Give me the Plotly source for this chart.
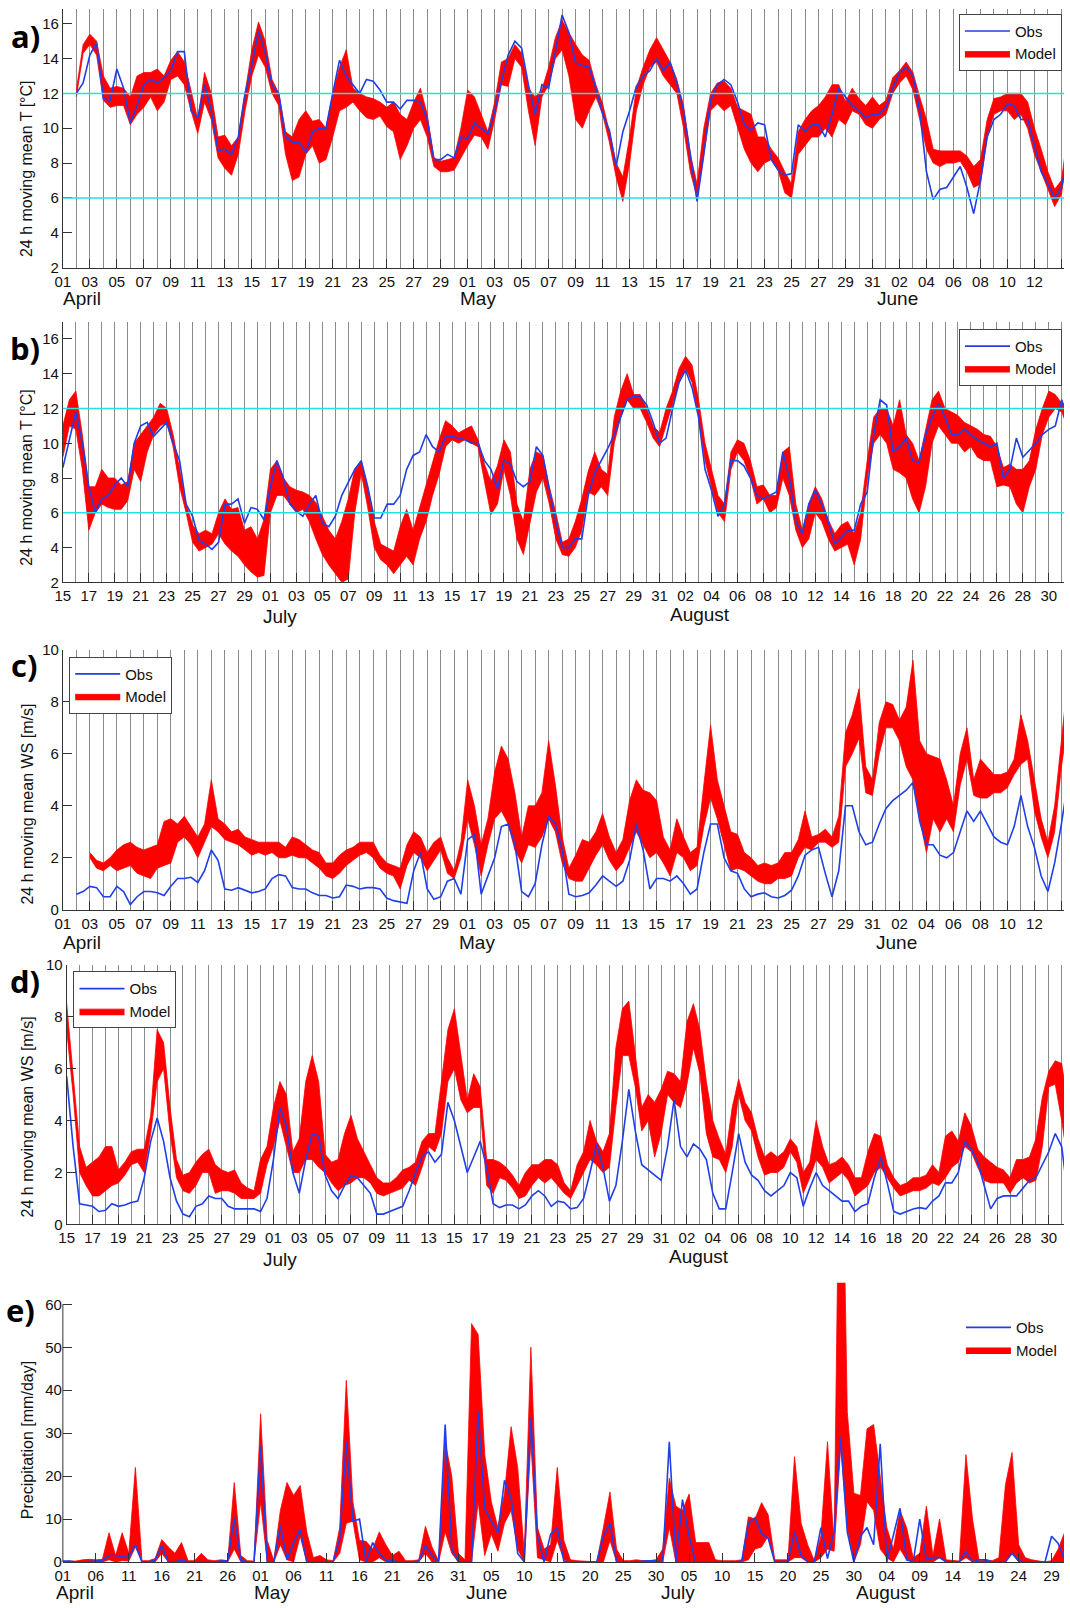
import numpy as np
import pandas as pd
import plotly.graph_objects as go

# ---------------------------------------------------------------- data
A_START = "2013-04-01"   # panels a, c, e start
B_START = "2013-06-15"   # panels b, d start

# Panel a: 24 h moving mean T, 12-hourly from Apr 2 (day 1) to day 74.5
a_obs = [12.0, 12.6, 14.2, 14.9, 11.7, 11.6, 13.4, 12.3, 10.3, 11.3,
         12.5, 12.8, 12.6, 12.9, 13.3, 14.4, 14.4, 11.0, 10.6, 12.5,
         11.0, 8.7, 8.8, 8.5, 9.5, 12.0, 13.6, 15.6, 14.3, 12.5,
         12.0, 9.5, 9.2, 9.2, 8.6, 9.8, 10.0, 10.0, 12.0, 13.9,
         13.0, 12.5, 12.0, 12.8, 12.7, 12.2, 11.5, 11.5, 11.1, 11.6,
         11.6, 11.5, 10.5, 8.2, 8.2, 8.5, 8.3, 9.5, 9.4, 10.3,
         10.0, 9.7, 11.0, 12.7, 14.2, 15.0, 14.6, 12.5, 10.8, 12.5,
         12.3, 14.5, 16.5, 15.5, 13.75, 13.6, 13.5, 12.3, 10.8, 9.9,
         7.8, 9.8, 11.0, 12.4, 13.0, 13.3, 14.0, 13.3, 13.8, 12.6,
         11.0, 8.5, 5.8, 8.5, 11.6, 12.5, 12.8, 12.5, 11.5, 10.2,
         9.9, 10.3, 10.2, 8.2, 7.6, 7.3, 7.4, 10.2, 9.8, 10.2,
         10.2, 9.5, 10.8, 12.3, 11.8, 11.3, 11.0, 10.6, 10.8, 10.8,
         11.2, 12.3, 13.2, 13.5, 13.0, 11.0, 7.5, 5.9, 6.5, 6.6,
         7.2, 7.8, 6.6, 5.1, 7.0, 9.5, 10.5, 10.8, 11.4, 11.3,
         10.5, 10.5, 9.0, 7.5, 6.8, 6.0, 6.6, 8.4]
a_lo = [11.8, 14.3, 14.8, 14.2, 11.6, 11.2, 11.3, 11.3, 10.2, 10.8,
        11.2, 11.8, 11.0, 11.5, 12.8, 13.0, 12.5, 11.0, 9.7, 11.5,
        10.5, 8.3, 7.7, 7.3, 8.5, 11.0, 13.0, 14.2, 13.5, 12.0,
        11.3, 8.5, 7.0, 7.2, 8.5, 9.0, 8.0, 8.2, 9.5, 11.0,
        11.2, 11.5, 11.0, 10.6, 10.5, 10.7, 10.1, 9.8, 8.2, 9.0,
        10.0, 10.5, 9.5, 7.8, 7.5, 7.5, 7.6, 8.3, 9.0, 9.6,
        9.5, 8.8, 10.5, 12.5, 12.4, 14.0, 13.5, 11.0, 9.0, 11.8,
        12.5, 14.0, 14.5, 13.0, 10.5, 10.0, 11.0, 11.8, 10.8, 9.2,
        7.2, 5.8, 8.0, 11.0, 12.5, 13.5, 13.8, 13.0, 12.5, 12.0,
        10.0, 7.5, 6.0, 8.5, 11.0, 11.4, 11.0, 11.3, 10.0, 8.8,
        8.0, 7.5, 8.0, 8.2, 7.6, 6.3, 6.0, 8.5, 9.0, 9.5,
        9.5, 10.0, 9.5, 10.5, 10.2, 11.0, 10.8, 10.2, 10.0, 10.5,
        10.8, 12.0, 12.6, 13.0, 12.2, 10.5, 8.8, 8.0, 7.8, 8.0,
        8.0, 8.1, 7.5, 6.6, 6.8, 9.5, 10.8, 11.0, 11.0, 10.5,
        10.8, 10.0, 8.5, 7.5, 6.5, 5.5, 6.2, 8.8]
a_hi = [12.2, 14.8, 15.4, 15.0, 13.0, 12.3, 12.4, 12.3, 11.8, 13.0,
        13.2, 13.2, 13.4, 13.0, 13.9, 14.4, 13.8, 12.2, 10.5, 13.2,
        12.0, 9.5, 9.6, 9.0, 9.5, 12.0, 14.5, 16.1, 15.0, 12.8,
        12.0, 9.8, 9.5, 10.5, 11.0, 10.4, 10.5, 10.0, 12.0, 13.5,
        14.5, 12.3, 12.0, 11.8, 11.7, 11.5, 11.2, 11.5, 10.8, 10.5,
        11.5, 12.3, 10.8, 8.3, 8.1, 8.2, 8.3, 10.0, 12.2, 11.8,
        10.8, 9.8, 11.5, 13.8, 14.0, 14.8, 14.3, 12.3, 11.8, 12.2,
        13.5, 15.2, 16.2, 15.5, 14.8, 14.2, 13.9, 12.5, 11.4, 9.8,
        8.0, 7.2, 9.5, 12.3, 13.5, 14.5, 15.2, 14.5, 13.8, 12.8,
        11.3, 8.5, 6.8, 10.0, 12.0, 12.6, 12.7, 12.3, 11.2, 11.0,
        10.8, 9.5, 9.5, 8.8, 8.3, 7.5, 6.8, 9.8, 10.5, 11.0,
        11.3, 11.8, 12.5, 12.5, 11.5, 12.3, 11.7, 11.3, 11.8, 11.3,
        11.6, 12.9, 13.3, 13.8, 13.2, 11.8, 10.5, 8.8, 8.7, 8.7,
        8.7, 8.7, 8.4, 7.8, 8.2, 10.5, 11.7, 11.8, 12.0, 12.0,
        12.0, 11.5, 10.0, 8.8, 7.5, 6.5, 7.0, 9.8]

# Panel b: 24 h moving mean T, 12-hourly from Jun 15 (day 0) to day 77.5
b_obs = [8.6, 10.3, 11.8, 10.0, 7.5, 6.0, 6.8, 7.0, 7.6, 8.0,
         7.5, 10.0, 11.0, 11.2, 10.4, 10.8, 11.2, 10.0, 9.0, 6.5,
         5.8, 4.4, 4.2, 3.9, 4.3, 6.5, 6.5, 6.8, 5.4, 6.3,
         6.2, 5.6, 7.5, 9.0, 8.0, 6.5, 6.1, 5.8, 6.5, 7.0,
         5.4, 5.2, 5.8, 7.0, 7.8, 8.5, 9.0, 7.5, 5.7, 5.7,
         6.5, 6.5, 7.0, 8.5, 9.3, 9.5, 10.5, 9.8, 9.5, 10.4,
         10.4, 10.3, 10.2, 10.0, 10.0, 9.0, 8.5, 7.4, 9.0, 8.8,
         7.8, 7.5, 7.8, 9.8, 9.3, 7.3, 5.5, 4.0, 4.0, 4.5,
         4.5, 7.0, 8.3, 9.0, 9.7, 10.5, 11.5, 12.5, 12.7, 12.7,
         12.2, 11.2, 10.0, 10.3, 12.0, 13.5, 14.2, 13.2, 11.5, 8.5,
         7.3, 5.8, 6.5, 9.0, 9.0, 8.7, 8.0, 7.0, 6.8, 7.0,
         7.2, 9.5, 8.0, 5.5, 4.8, 6.5, 7.3, 6.5, 5.5, 4.2,
         4.6, 5.0, 5.0, 6.5, 7.2, 10.5, 12.5, 12.2, 9.5, 9.8,
         10.3, 9.0, 8.9, 10.5, 11.5, 12.3, 11.5, 10.5, 10.5, 10.8,
         10.5, 10.2, 10.0, 9.8, 10.0, 8.0, 8.5, 10.3, 9.2, 9.6,
         10.0, 10.5, 10.8, 11.0, 12.5, 11.2]
b_lo = [9.2, 11.0, 10.8, 8.5, 5.0, 6.0, 6.5, 6.3, 6.2, 6.2,
        6.7, 8.5, 7.8, 9.5, 10.5, 11.0, 11.2, 9.8, 7.5, 6.0,
        4.3, 3.8, 4.0, 4.2, 4.8, 4.2, 3.8, 3.5, 3.0, 2.6,
        2.3, 2.4, 6.0, 7.0, 7.0, 6.5, 6.0, 6.2, 5.5, 4.5,
        3.6, 3.0, 2.5, 2.0, 2.2, 6.0, 8.3, 6.3, 4.0, 3.3,
        3.0, 2.5, 3.0, 3.5, 3.0, 4.5, 5.5, 7.0, 8.2, 9.8,
        10.2, 10.0, 10.2, 10.0, 9.8, 7.8, 5.9, 6.5, 8.5, 7.0,
        4.5, 3.6, 5.5, 7.2, 8.0, 6.5, 4.5, 3.6, 3.5, 4.0,
        5.0, 7.2, 7.0, 7.5, 7.0, 10.0, 11.5, 12.5, 12.0, 12.0,
        11.2, 10.3, 9.8, 11.0, 12.3, 13.5, 14.3, 13.5, 11.5, 9.0,
        7.5, 6.0, 5.5, 8.5, 9.5, 9.0, 8.0, 6.5, 6.8, 6.0,
        6.3, 8.0, 7.0, 5.0, 4.0, 4.5, 6.0, 5.5, 4.5, 3.8,
        4.0, 4.2, 3.0, 4.5, 8.0, 10.0, 10.5, 10.0, 8.5, 8.3,
        8.0, 6.8, 6.0, 7.5, 10.0, 11.0, 10.5, 10.0, 10.0, 9.5,
        9.8, 9.2, 9.0, 9.0, 7.5, 7.6, 7.5, 6.5, 6.0, 7.5,
        8.5, 10.5, 11.5, 12.0, 11.8, 10.8]
b_hi = [11.0, 12.5, 13.0, 10.5, 7.5, 7.5, 8.5, 8.0, 8.0, 7.6,
        7.8, 10.0, 10.5, 11.0, 11.5, 12.3, 12.0, 10.5, 8.5, 6.5,
        5.3, 4.8, 5.0, 4.8, 6.0, 6.8, 6.2, 6.3, 5.0, 5.2,
        4.5, 5.6, 8.5, 9.0, 8.0, 7.5, 7.3, 7.2, 7.0, 6.6,
        5.8, 5.0, 4.5, 5.5, 6.8, 8.5, 9.0, 7.5, 5.5, 4.2,
        4.0, 3.8, 5.2, 6.2, 5.0, 6.3, 7.5, 8.8, 10.2, 11.3,
        11.0, 10.6, 10.8, 11.0, 10.2, 8.8, 7.8, 8.7, 10.2, 9.5,
        6.5, 5.5, 8.5, 9.5, 9.3, 7.5, 6.0, 4.3, 4.5, 5.5,
        6.8, 8.4, 9.5, 8.5, 8.2, 11.5, 13.0, 14.0, 12.8, 12.8,
        12.0, 11.0, 10.6, 12.0, 13.0, 14.3, 15.0, 14.5, 12.5, 10.0,
        8.5, 7.0, 6.5, 9.5, 10.2, 10.0, 9.0, 7.5, 7.6, 7.0,
        7.0, 9.5, 9.8, 6.5, 5.0, 6.5, 7.5, 6.8, 5.6, 4.8,
        5.3, 5.5, 4.8, 6.0, 9.0, 11.5, 12.0, 12.0, 11.0, 12.5,
        10.5, 10.0, 9.0, 10.8, 12.5, 13.0, 12.0, 11.8, 11.6, 11.2,
        11.0, 10.8, 10.5, 10.4, 9.8, 8.6, 8.8, 8.5, 8.5, 9.0,
        10.8, 12.0, 13.0, 12.8, 12.3, 12.2]

# Panel c: 24 h moving mean WS; obs 12-hourly from day 1, model from day 2
c_obs = [0.6, 0.7, 0.9, 0.85, 0.5, 0.5, 0.9, 0.7, 0.2, 0.5,
         0.7, 0.7, 0.65, 0.55, 0.9, 1.2, 1.2, 1.25, 1.05, 1.5,
         2.3, 1.9, 0.8, 0.75, 0.85, 0.75, 0.65, 0.7, 0.8, 1.2,
         1.35, 1.3, 0.85, 0.8, 0.8, 0.65, 0.55, 0.55, 0.45, 0.5,
         0.95, 0.9, 0.8, 0.85, 0.85, 0.8, 0.45, 0.35, 0.3, 0.25,
         1.5, 2.2, 0.8, 0.4, 0.5, 1.1, 1.2, 0.6, 2.7, 2.9,
         0.6, 1.3, 2.0, 3.2, 3.3, 2.5, 0.7, 0.5, 1.0, 2.5,
         3.6, 3.3, 2.3, 0.6, 0.5, 0.55, 0.65, 0.95, 1.3, 1.1,
         0.9, 1.1, 1.9, 3.3, 2.3, 0.8, 1.2, 1.2, 1.1, 1.3,
         1.0, 0.6, 0.8, 2.2, 3.3, 3.3, 2.0, 1.5, 1.4, 0.8,
         0.5, 0.6, 0.65, 0.5, 0.45, 0.55, 0.75, 1.3, 2.1, 2.3,
         2.4, 1.4, 0.5, 1.5, 4.0, 4.0, 3.0, 2.5, 2.6, 3.3,
         3.9, 4.2, 4.4, 4.6, 4.9, 3.4, 2.5, 2.5, 2.1, 2.0,
         2.2, 3.0, 3.8, 3.4, 3.8, 3.3, 2.8, 2.6, 2.5, 3.2,
         4.4, 3.2, 2.4, 1.3, 0.7, 1.8, 3.3, 5.0]
c_lo = [2.0, 1.6, 1.5, 1.7, 1.5, 1.6, 1.7, 1.4, 1.3, 1.2,
        1.6, 1.7, 1.8, 2.6, 2.8, 2.5, 2.0, 2.6, 3.2, 3.0,
        2.7, 2.6, 2.5, 2.3, 2.1, 2.2, 2.1, 2.2, 2.0, 2.0,
        2.1, 2.0, 2.0, 1.8, 1.6, 1.3, 1.2, 1.4, 1.7, 1.9,
        2.1, 2.2, 2.0, 1.6, 1.4, 1.3, 0.8, 1.7, 2.2, 2.0,
        1.5, 1.9, 2.3, 1.4, 1.2, 2.0, 3.5, 2.5, 1.3, 2.5,
        3.5, 3.8, 3.3, 2.3, 1.8, 2.5, 2.4, 2.8, 3.5, 3.0,
        1.8, 1.2, 1.1, 1.1, 1.6, 2.1, 2.5, 1.9, 1.5, 1.8,
        2.4, 3.0, 2.5, 2.0, 2.2, 1.8, 1.3, 2.2, 2.0, 1.5,
        1.7, 3.2, 4.3, 3.5, 2.5, 1.5, 1.6, 1.5, 1.3, 1.1,
        1.0, 1.0, 1.2, 1.2, 1.3, 2.0, 2.4, 2.3, 2.6, 2.6,
        2.4, 2.6, 5.5, 6.0, 6.6, 4.5, 4.4, 6.0, 7.0, 7.0,
        6.5, 5.5, 5.0, 3.5, 2.2, 3.5, 3.0, 3.5, 3.0, 4.8,
        5.8, 4.4, 4.3, 4.3, 4.5, 4.5, 4.7, 5.2, 5.6, 5.8,
        3.8, 2.8, 2.0, 3.0, 5.5, 7.3]
c_hi = [2.2, 1.9, 1.8, 2.0, 2.3, 2.5, 2.6, 2.4, 2.3, 2.4,
        2.5, 3.4, 3.5, 3.3, 3.6, 3.2, 2.8, 3.3, 5.0, 3.5,
        3.3, 3.0, 3.1, 2.8, 2.7, 2.6, 2.6, 2.6, 2.6, 2.4,
        2.8, 2.7, 2.5, 2.3, 2.2, 1.8, 1.8, 2.1, 2.3, 2.4,
        2.6, 2.6, 2.6, 2.1, 1.8, 1.7, 1.6, 2.5, 3.0, 2.8,
        2.2, 2.6, 2.8, 2.0, 1.5, 2.6, 5.0, 4.0, 2.5, 3.5,
        5.3, 6.3, 5.8, 4.5, 2.8, 4.0, 4.0, 4.5, 6.5, 4.8,
        2.8, 1.6, 2.1, 2.7, 2.6, 3.0, 3.7, 2.8, 2.2, 2.7,
        4.2, 5.0, 4.6, 4.5, 4.2, 2.8, 2.3, 3.5, 2.8, 2.2,
        2.4, 4.8, 7.1, 5.0, 4.0, 3.0, 2.9, 2.2, 2.0, 1.7,
        1.8, 1.7, 1.8, 2.2, 2.2, 2.7, 3.8, 2.8, 2.9, 3.1,
        2.8, 3.6, 6.8, 7.5, 8.5, 5.5, 5.0, 7.2, 8.0, 7.9,
        7.3, 7.8, 9.6, 6.5, 6.0, 5.9, 5.8, 5.0, 4.0, 6.0,
        7.0, 5.0, 5.8, 5.5, 5.2, 5.2, 5.3, 5.8, 7.5, 6.5,
        5.0, 3.5, 2.6, 4.0, 6.5, 9.0]

# Panel d: 24 h moving mean WS, 12-hourly from Jun 15 (day 0) to day 77.5
d_obs = [5.7, 3.0, 0.8, 0.75, 0.7, 0.5, 0.55, 0.8, 0.7, 0.75,
         0.85, 0.9, 1.8, 3.2, 4.1, 3.2, 1.8, 0.9, 0.4, 0.3,
         0.7, 0.8, 1.1, 1.0, 1.0, 0.7, 0.6, 0.6, 0.6, 0.6,
         0.5, 1.0, 2.5, 4.5, 3.8, 2.0, 1.2, 2.5, 3.5, 3.4,
         1.9, 1.3, 1.0, 1.5, 1.9, 1.8, 1.5, 1.2, 0.4, 0.4,
         0.5, 0.6, 0.7, 1.3, 2.0, 2.6, 2.8, 2.4, 2.7, 4.7,
         4.0, 3.0, 2.0, 2.6, 3.2, 2.2, 0.8, 0.65, 0.75, 0.75,
         0.6, 0.75, 1.1, 1.3, 1.1, 0.7, 0.9, 0.85, 0.6, 0.65,
         1.0, 2.0, 3.1, 2.2, 0.9, 1.5, 3.2, 5.2, 3.6, 2.3,
         2.1, 1.9, 1.7, 3.0, 4.8, 3.0, 2.6, 3.1, 2.9, 2.5,
         1.2, 0.6, 0.6, 2.0, 3.5, 2.4, 1.9, 1.7, 1.3, 1.1,
         1.3, 1.5, 2.0, 1.8, 0.7, 1.4, 2.0, 1.5, 1.3, 1.1,
         0.9, 0.9, 0.5, 0.7, 0.8, 1.8, 2.6, 1.6, 0.5, 0.4,
         0.5, 0.6, 0.65, 0.6, 0.9, 1.1, 1.6, 1.6, 2.0, 3.2,
         2.9, 2.4, 1.5, 0.6, 1.0, 1.1, 1.1, 1.1, 1.4, 1.7,
         1.8, 2.3, 2.8, 3.5, 3.0, 1.0]
d_lo = [7.5, 5.0, 2.0, 1.5, 1.1, 1.1, 1.3, 1.5, 1.6, 1.9,
        2.3, 2.4, 2.0, 3.5, 5.5, 6.0, 3.5, 1.8, 1.3, 1.2,
        1.5, 2.0, 2.0, 1.2, 1.3, 1.3, 1.2, 1.0, 1.0, 1.0,
        1.2, 2.3, 3.0, 4.0, 3.0, 2.0, 2.0, 2.5, 2.5, 2.2,
        2.0, 1.6, 1.3, 1.5, 1.6, 1.8, 1.8, 1.6, 1.2, 1.1,
        1.2, 1.3, 1.4, 1.7, 1.5, 2.2, 3.0, 2.8, 3.5, 5.5,
        6.0, 4.8, 4.3, 4.5, 4.5, 1.5, 1.2, 1.8, 1.7, 1.4,
        1.0, 1.1, 1.5, 1.8, 1.6, 1.8, 1.5, 1.2, 1.0, 1.5,
        2.0, 2.5, 2.3, 2.0, 2.2, 4.5, 6.5, 6.5, 5.3, 3.6,
        4.0, 2.6, 3.5, 5.0, 4.7, 4.5, 5.4, 6.8, 5.8, 3.5,
        2.6, 2.5, 2.0, 3.0, 5.0, 4.0, 3.6, 2.6, 1.9, 2.0,
        2.0, 2.2, 2.8, 2.4, 1.2, 1.8, 2.5, 2.2, 1.6, 1.8,
        2.0, 1.7, 1.1, 1.3, 1.5, 2.0, 2.2, 1.8, 1.4, 1.1,
        1.2, 1.3, 1.3, 1.4, 1.6, 1.5, 1.8, 2.2, 2.4, 3.0,
        2.8, 2.2, 1.7, 1.6, 1.6, 1.6, 1.2, 1.6, 1.8, 1.6,
        1.7, 3.0, 5.3, 5.4, 4.0, 2.3]
d_hi = [8.5, 5.8, 3.0, 2.2, 2.4, 2.6, 3.0, 3.0, 2.1, 2.4,
        2.8, 2.9, 2.9, 4.2, 7.5, 7.0, 4.5, 2.5, 1.9, 2.0,
        2.4, 2.7, 2.9, 2.3, 2.1, 2.0, 2.1, 1.6, 1.4, 1.3,
        2.5, 3.0, 4.5, 5.5, 5.0, 2.8, 3.3, 5.5, 6.5, 5.5,
        2.7, 2.4, 2.5, 3.5, 4.2, 3.3, 2.8, 2.3, 1.8, 1.6,
        1.6, 1.8, 2.1, 2.2, 2.4, 3.2, 3.5, 3.5, 5.5, 7.5,
        8.3, 6.5, 4.8, 5.8, 5.3, 2.5, 2.5, 2.4, 2.2, 1.9,
        1.5, 2.0, 2.3, 2.3, 2.5, 2.5, 2.3, 1.6, 1.3, 2.3,
        2.8, 4.0, 3.2, 2.8, 3.5, 6.8, 8.3, 8.6, 6.6, 4.5,
        5.0, 4.7, 5.2, 5.9, 5.8, 5.5, 7.8, 8.5, 7.5, 5.5,
        4.0, 3.3, 2.7, 4.5, 5.6, 4.7, 4.3, 3.3, 2.6, 2.8,
        2.6, 2.8, 3.3, 3.0, 2.0, 2.4, 4.0, 3.0, 2.3, 2.4,
        2.6, 2.3, 1.8, 1.8, 2.8, 3.5, 3.4, 2.3, 1.8, 1.5,
        1.6, 1.8, 1.8, 1.9, 2.3, 2.0, 3.4, 3.6, 3.2, 4.3,
        3.8, 2.9, 2.6, 2.4, 2.2, 2.1, 1.8, 2.5, 2.5, 2.6,
        3.3, 4.9, 5.9, 6.3, 6.2, 4.5]

# Panel e: daily precipitation, Apr 1 (day 0) to day 153
e_obs = [0.2, 0.2, 0, 0, 0.1, 0.2, 0.3, 1.5, 1.5, 1.3,
         1.0, 4.0, 0, 0, 0.5, 3.8, 0, 0, 0.5, 0,
         0, 0, 0, 0, 0.2, 0.3, 10.2, 0.5, 0, 0,
         27, 0, 0, 8.5, 0.5, 4.5, 7.6, 0, 0, 0,
         0, 0, 5.5, 28, 9.5, 10, 0, 4.5, 2.0, 0.4,
         0.3, 0, 0, 0, 0.2, 3.8, 1.5, 0, 32, 3,
         0, 0, 0, 35, 12.5, 9.5, 6.8, 19, 15, 2,
         0, 33.5, 6, 0, 6.5, 8, 0.2, 0, 0, 0,
         0, 0, 6, 9, 0, 0, 0, 0, 0.2, 0.3,
         0.3, 0, 28, 0, 14.5, 6, 0, 0, 0, 0,
         0, 0, 0, 0.2, 9, 10.3, 6.6, 5.5, 0, 0.1,
         0.1, 7, 1.5, 0, 0, 8, 0.8, 7, 29, 7,
         0, 6, 8, 4, 27.5, 0, 6.5, 12.5, 0.5, 0,
         10, 0.5, 1, 1, 0, 0, 0, 2.5, 0, 0.5,
         0.5, 0, 0, 0, 2, 0.3, 0, 0, 0, 0,
         6, 4.3, 0.5, 0.2]
e_lo = [0, 0, 0, 0, 0, 0, 0, 0.5, 0, 0.3,
        0.2, 3.5, 0, 0, 0, 2.0, 0, 0, 0, 0,
        0, 0, 0, 0, 0, 0, 3.0, 0, 0, 0,
        14, 0, 0, 4, 0.5, 0, 6, 0, 0, 0,
        0, 0, 2, 9, 9.5, 0.5, 0, 0, 1, 0,
        0, 0, 0, 0, 0, 2, 0, 0, 7, 2,
        0, 0, 0, 14, 1.5, 6.5, 2.5, 9, 12, 3,
        0, 28, 1, 0.5, 0, 5, 0.5, 0, 0, 0,
        0, 0, 0, 5, 0, 0, 0, 0, 0, 0,
        0, 0, 8, 0, 0, 0, 0, 0, 0, 0,
        0, 0, 0, 0, 0.5, 3, 3.5, 6, 0, 0,
        0, 1, 1, 0, 0, 1, 3, 2.5, 27, 8,
        0, 4, 14, 12, 3, 1, 0, 3, 0.5, 0,
        0, 0, 0, 1, 0, 0, 0, 1, 0, 0,
        0, 0, 0, 0, 2, 0, 0, 0, 0, 0,
        0, 0, 0, 0]
e_hi = [0, 0.2, 0.2, 0.5, 0.6, 0.5, 0.6, 6.8, 1.5, 6.8,
        2.0, 22, 0.3, 0.3, 0.8, 5.2, 3.5, 2.0, 4.5, 0.3,
        0.3, 2.0, 0.5, 0.3, 0.5, 0.3, 18.5, 1.5, 0.3, 0.2,
        34.5, 5, 0.3, 12, 18.5, 15.5, 17.8, 7, 1.0, 1.5,
        0.5, 0.3, 8, 42.3, 14, 5, 4.8, 3, 7, 4,
        1.5, 2.5, 0.3, 0.3, 0.5, 8.3, 3.5, 0.3, 28, 20,
        2, 0.5, 55.5, 53, 25, 14, 8, 16, 31.5, 22,
        2, 50, 8, 3, 4, 22, 5, 0.5, 0.3, 0.2,
        0, 0, 8, 16.3, 3, 0.3, 0.3, 0.5, 0.3, 0.3,
        0.5, 3, 19.5, 13, 12, 15.8, 4.5, 4.5, 4.5, 0.5,
        0.3, 0.3, 0.3, 0.5, 10.5, 10, 13.8, 11, 0.5, 0.5,
        0.5, 24.5, 9, 4, 0.3, 6, 28, 4, 125, 35,
        16, 15.5, 31, 32, 20, 8, 3, 12, 8, 1,
        2, 13, 1.5, 10, 0.5, 0.3, 0.2, 25, 10, 0.3,
        0.5, 0.3, 1, 18, 25.5, 4, 1, 0.5, 0.3, 0,
        0.3, 3, 7, 1]

for name, arr, n in [("a_obs", a_obs, 148), ("a_lo", a_lo, 148), ("a_hi", a_hi, 148),
                     ("b_obs", b_obs, 156), ("b_lo", b_lo, 156), ("b_hi", b_hi, 156),
                     ("c_obs", c_obs, 148), ("c_lo", c_lo, 146), ("c_hi", c_hi, 146),
                     ("d_obs", d_obs, 156), ("d_lo", d_lo, 156), ("d_hi", d_hi, 156),
                     ("e_obs", e_obs, 154), ("e_lo", e_lo, 154), ("e_hi", e_hi, 154)]:
    assert len(arr) == n, (name, len(arr))

# ---------------------------------------------------------------- page geometry
# The page keeps the browser's default 8 px body margin, and the captured page
# is 1080 x 1624 which is then shown at 1070 x 1608.  All positions below are
# given in final-picture pixels and converted to figure paper coordinates.
DAY_MS = 86400000
M = 8
W, H = 1064, 1608
SX, SY = 1070 / (W + 2 * M), 1608 / (H + 2 * M)
RIGHT = SX * (M + W)          # right edge of the figure in picture pixels

RED = "#ff0000"
BLUE = "#1f3fe8"
GRID = "#8a8a8a"
AXC = "#333333"
CYAN = "#22e4e4"
FONT = "Liberation Sans, Arial, sans-serif"


def times(start, first_day, n, step):
    return pd.Timestamp(start) + pd.to_timedelta(first_day + step * np.arange(n), unit="D")


def at(start, days):
    return pd.Timestamp(start) + pd.Timedelta(days=days)


def py(Y):            # picture pixel row -> paper y
    return 1 - (Y / SY - M) / H


def px_(X):           # picture pixel column -> paper x
    return (X / SX - M) / W


fig = go.Figure()


def add_panel(k, t_band, lo, hi, t_obs, obs, legend):
    xa = "x" if k == 1 else f"x{k}"
    ya = "y" if k == 1 else f"y{k}"
    fig.add_trace(go.Scatter(x=t_band, y=lo, mode="lines", line=dict(color=RED, width=0.8),
                             showlegend=False, hoverinfo="skip", xaxis=xa, yaxis=ya))
    fig.add_trace(go.Scatter(x=t_band, y=hi, mode="lines", fill="tonexty", fillcolor=RED,
                             line=dict(color=RED, width=0.8), name="Model", legend=legend,
                             legendrank=2, xaxis=xa, yaxis=ya))
    fig.add_trace(go.Scatter(x=t_obs, y=obs, mode="lines", line=dict(color=BLUE, width=1.6),
                             name="Obs", legend=legend, legendrank=1, xaxis=xa, yaxis=ya))


add_panel(1, times(A_START, 1, 148, 0.5), a_lo, a_hi, times(A_START, 1, 148, 0.5), a_obs, "legend")
add_panel(2, times(B_START, 0, 156, 0.5), b_lo, b_hi, times(B_START, 0, 156, 0.5), b_obs, "legend2")
add_panel(3, times(A_START, 2, 146, 0.5), c_lo, c_hi, times(A_START, 1, 148, 0.5), c_obs, "legend3")
add_panel(4, times(B_START, 0, 156, 0.5), d_lo, d_hi, times(B_START, 0, 156, 0.5), d_obs, "legend4")
add_panel(5, times(A_START, 0, 154, 1.0), e_lo, e_hi, times(A_START, 0, 154, 1.0), e_obs, "legend5")

# ---------------------------------------------------------------- axes
# (left px, top px, bottom px, start, px per day, yrange, ytick values) -- picture pixels
panels = {
    1: (62.7, 8.0, 266.7, A_START, 13.47, [2, 16.84], list(range(2, 17, 2))),
    2: (62.7, 320.7, 581.7, B_START, 12.95, [2, 17], list(range(2, 17, 2))),
    3: (62.7, 649.3, 909.3, A_START, 13.47, [0, 10], list(range(0, 11, 2))),
    4: (66.5, 964.3, 1224.3, B_START, 12.90, [0, 10], list(range(0, 11, 2))),
    5: (62.7, 1282.7, 1562.0, A_START, 6.58, [0, 65], list(range(0, 61, 10))),
}

for k, (left, top, bot, start, ppd, yr, yt) in panels.items():
    xname = "xaxis" if k == 1 else f"xaxis{k}"
    yname = "yaxis" if k == 1 else f"yaxis{k}"
    ya = "y" if k == 1 else f"y{k}"
    xa = "x" if k == 1 else f"x{k}"
    span = (RIGHT - left) / ppd
    xd = dict(type="date", domain=[px_(left), 1.0], anchor=ya,
              range=[pd.Timestamp(start), at(start, span)],
              tick0=start, dtick=(5 if k == 5 else 2) * DAY_MS, tickformat="%d",
              ticks="inside", ticklen=9, tickwidth=1, tickcolor=AXC,
              showline=True, linecolor=AXC, linewidth=1, zeroline=False,
              tickfont=dict(size=15, color="#111", family=FONT), fixedrange=True)
    if k == 5:
        xd.update(showgrid=False)
    else:
        xd.update(showgrid=True, gridcolor=GRID, gridwidth=1,
                  minor=dict(tick0=start, dtick=DAY_MS, showgrid=True,
                             gridcolor=GRID, gridwidth=1, ticks=""))
    yd = dict(domain=[py(bot), min(1.0, py(top))], anchor=xa, range=yr, tickvals=yt,
              ticks="inside", ticklen=9, tickwidth=1, tickcolor=AXC,
              showline=(k != 5), linecolor=AXC, linewidth=1, showgrid=False,
              zeroline=False, tickfont=dict(size=15, color="#111", family=FONT),
              fixedrange=True)
    fig.update_layout({xname: xd, yname: yd})

shapes = []
for k in (1, 2):
    xa = "x" if k == 1 else f"x{k}"
    ya = "y" if k == 1 else f"y{k}"
    for lvl in (6, 12):
        shapes.append(dict(type="line", xref=f"{xa} domain", yref=ya, x0=0, x1=1,
                           y0=lvl, y1=lvl, line=dict(color=CYAN, width=1.5), layer="above"))
# y axis line of panel e runs from 0 to 60 only
shapes.append(dict(type="line", xref="x5 domain", yref="y5", x0=0, x1=0, y0=0, y1=60,
                   line=dict(color=AXC, width=1), layer="above"))

# ---------------------------------------------------------------- annotations
ann = []
for txt, yc in [("24 h moving mean T [°C]", 168), ("24 h moving mean T [°C]", 477),
                ("24 h moving mean WS [m/s]", 804), ("24 h moving mean WS [m/s]", 1117),
                ("Precipitation [mm/day]", 1440)]:
    ann.append(dict(text=txt, xref="paper", yref="paper", x=px_(27), y=py(yc),
                    textangle=-90, showarrow=False, xanchor="center", yanchor="middle",
                    font=dict(size=16, family=FONT, color="#111")))
for txt, xc, yc in [("a)", 25, 35), ("b)", 25, 347), ("c)", 24, 664), ("d)", 25, 981), ("e)", 20, 1310)]:
    ann.append(dict(text=f"<b>{txt}</b>", xref="paper", yref="paper", x=px_(xc), y=py(yc),
                    showarrow=False, xanchor="center", yanchor="middle",
                    font=dict(size=31, family="Open Sans, sans-serif", color="#000")))
months = [
    ("x", "April", A_START, 1.45, 298), ("x", "May", A_START, 30.75, 298), ("x", "June", A_START, 61.85, 298),
    ("x2", "July", B_START, 16.7, 616), ("x2", "August", B_START, 49.1, 614),
    ("x3", "April", A_START, 1.4, 942), ("x3", "May", A_START, 30.7, 942), ("x3", "June", A_START, 61.8, 942),
    ("x4", "July", B_START, 16.5, 1259), ("x4", "August", B_START, 48.9, 1256),
    ("x5", "April", A_START, 1.9, 1593), ("x5", "May", A_START, 31.8, 1593), ("x5", "June", A_START, 64.3, 1593),
    ("x5", "July", A_START, 93.3, 1593), ("x5", "August", A_START, 124.8, 1593),
]
for xa, txt, start, dd, yc in months:
    ann.append(dict(text=txt, xref=xa, yref="paper", x=at(start, dd), y=py(yc),
                    showarrow=False, xanchor="center", yanchor="middle",
                    font=dict(size=19, family=FONT, color="#111")))

leg_common = dict(font=dict(size=15, family=FONT, color="#111"), itemwidth=45,
                  tracegroupgap=0, traceorder="normal",
                  itemclick=False, itemdoubleclick=False)
boxed = dict(bordercolor="#444", borderwidth=1, bgcolor="white")
fig.update_layout(
    width=W, height=H, autosize=False,
    margin=dict(l=0, r=0, t=0, b=0),
    paper_bgcolor="white", plot_bgcolor="white",
    font=dict(family=FONT, size=15, color="#111"),
    showlegend=True,
    legend=dict(x=px_(1060), xanchor="right", y=py(12.7), yanchor="top", **boxed, **leg_common),
    legend2=dict(x=px_(1060), xanchor="right", y=py(328), yanchor="top", **boxed, **leg_common),
    legend3=dict(x=px_(69), xanchor="left", y=py(656), yanchor="top", **boxed, **leg_common),
    legend4=dict(x=px_(73.3), xanchor="left", y=py(971), yanchor="top", **boxed, **leg_common),
    legend5=dict(x=px_(1060), xanchor="right", y=py(1311), yanchor="top",
                 bgcolor="rgba(0,0,0,0)", borderwidth=0, **leg_common),
    shapes=shapes,
    annotations=ann,
)

fig.write_html("out.html")
